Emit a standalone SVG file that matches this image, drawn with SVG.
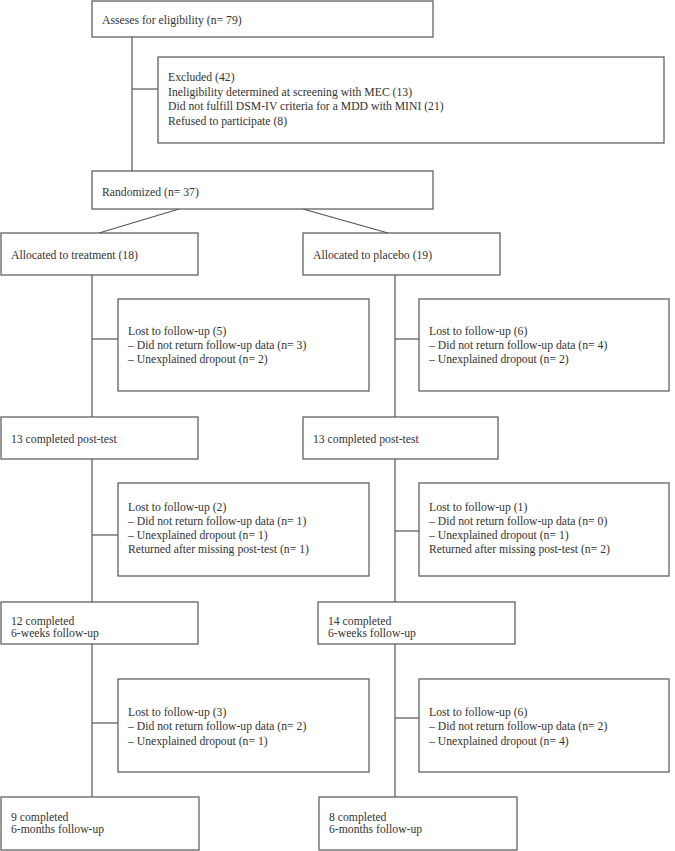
<svg xmlns="http://www.w3.org/2000/svg" width="675" height="851" viewBox="0 0 675 851">
<style>
rect{fill:#fff;stroke:#555;stroke-width:1.2}
text{font-family:"Liberation Serif","Times New Roman",serif;font-size:11.7px;fill:#333}
#connectors line{stroke:#555;stroke-width:1.2}
</style>
<rect x="0" y="0" width="675" height="851" style="stroke:none"/>
<g id="connectors">
<line x1="132" y1="37" x2="132" y2="171"/>
<line x1="132" y1="89" x2="158" y2="89"/>
<line x1="179" y1="209" x2="99" y2="233"/>
<line x1="303" y1="209" x2="388" y2="233"/>
<line x1="92" y1="275" x2="92" y2="417"/>
<line x1="92" y1="339" x2="118" y2="339"/>
<line x1="395" y1="275" x2="395" y2="417"/>
<line x1="395" y1="339" x2="419" y2="339"/>
<line x1="92" y1="459" x2="92" y2="602"/>
<line x1="92" y1="535" x2="118" y2="535"/>
<line x1="395" y1="459" x2="395" y2="602"/>
<line x1="395" y1="531" x2="419" y2="531"/>
<line x1="92" y1="644" x2="92" y2="797"/>
<line x1="92" y1="723" x2="118" y2="723"/>
<line x1="395" y1="644" x2="395" y2="797"/>
<line x1="395" y1="718" x2="419" y2="718"/>
</g>
<g id="assess"><rect x="92" y="1" width="341" height="36"/><text x="102" y="24">Asseses for eligibility (n= 79)</text></g>
<g id="excluded"><rect x="158" y="57" width="506" height="86"/>
<text x="168" y="81">Excluded (42)</text>
<text x="168" y="95.5">Ineligibility determined at screening with MEC (13)</text>
<text x="168" y="110">Did not fulfill DSM-IV criteria for a MDD with MINI (21)</text>
<text x="168" y="124.5">Refused to participate (8)</text></g>
<g id="randomized"><rect x="92" y="171" width="341" height="38"/><text x="102" y="196">Randomized (n= 37)</text></g>
<g id="alloc-treat"><rect x="1" y="233" width="197" height="42"/><text x="11" y="259">Allocated to treatment (18)</text></g>
<g id="alloc-placebo"><rect x="303" y="233" width="197" height="42"/><text x="313" y="259">Allocated to placebo (19)</text></g>
<g id="lost-t1"><rect x="118" y="299" width="251" height="92"/>
<text x="128" y="335">Lost to follow-up (5)</text>
<text x="128" y="349">– Did not return follow-up data (n= 3)</text>
<text x="128" y="363">– Unexplained dropout (n= 2)</text></g>
<g id="lost-p1"><rect x="419" y="299" width="250" height="92"/>
<text x="429" y="335">Lost to follow-up (6)</text>
<text x="429" y="349">– Did not return follow-up data (n= 4)</text>
<text x="429" y="363">– Unexplained dropout (n= 2)</text></g>
<g id="post-t"><rect x="1" y="417" width="197" height="42"/><text x="11" y="443">13 completed post-test</text></g>
<g id="post-p"><rect x="303" y="417" width="195" height="42"/><text x="313" y="443">13 completed post-test</text></g>
<g id="lost-t2"><rect x="118" y="483" width="251" height="93"/>
<text x="128" y="511">Lost to follow-up (2)</text>
<text x="128" y="525">– Did not return follow-up data (n= 1)</text>
<text x="128" y="539">– Unexplained dropout (n= 1)</text>
<text x="128" y="553">Returned after missing post-test (n= 1)</text></g>
<g id="lost-p2"><rect x="419" y="483" width="250" height="93"/>
<text x="429" y="511">Lost to follow-up (1)</text>
<text x="429" y="525">– Did not return follow-up data (n= 0)</text>
<text x="429" y="539">– Unexplained dropout (n= 1)</text>
<text x="429" y="553">Returned after missing post-test (n= 2)</text></g>
<g id="weeks-t"><rect x="1" y="602" width="197" height="42"/>
<text x="11" y="625">12 completed</text><text x="11" y="637">6-weeks follow-up</text></g>
<g id="weeks-p"><rect x="318" y="602" width="197" height="42"/>
<text x="328" y="625">14 completed</text><text x="328" y="637">6-weeks follow-up</text></g>
<g id="lost-t3"><rect x="118" y="679" width="251" height="93"/>
<text x="128" y="716">Lost to follow-up (3)</text>
<text x="128" y="730">– Did not return follow-up data (n= 2)</text>
<text x="128" y="745">– Unexplained dropout (n= 1)</text></g>
<g id="lost-p3"><rect x="419" y="679" width="250" height="93"/>
<text x="429" y="716">Lost to follow-up (6)</text>
<text x="429" y="730">– Did not return follow-up data (n= 2)</text>
<text x="429" y="745">– Unexplained dropout (n= 4)</text></g>
<g id="months-t"><rect x="1" y="797" width="198" height="53"/>
<text x="11" y="821">9 completed</text><text x="11" y="833">6-months follow-up</text></g>
<g id="months-p"><rect x="319" y="797" width="198" height="53"/>
<text x="329" y="821">8 completed</text><text x="329" y="833">6-months follow-up</text></g>
</svg>
